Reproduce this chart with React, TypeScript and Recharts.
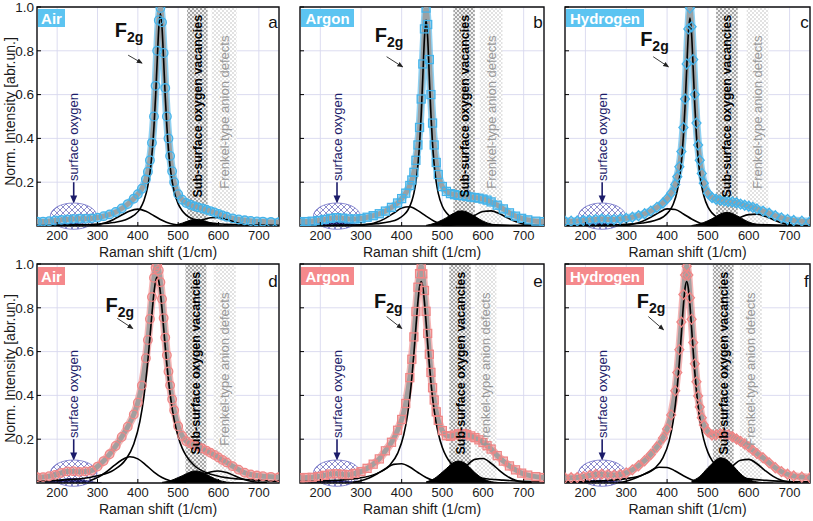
import React from 'react';
import { ComposedChart, Line, Area, XAxis, YAxis, CartesianGrid, ReferenceArea, ReferenceLine, ReferenceDot } from 'recharts';

const FONT = '"Liberation Sans", Arial, Helvetica, sans-serif';
const X_TICKS = [200, 300, 400, 500, 600, 700];
const Y_TICKS = [0.2, 0.4, 0.6, 0.8, 1.0];

// experimental spectrum x grid (1/cm)
const X_EXP = [150,165,180,195,210,225,240,255,270,285,300,315,330,345,360,375,390,400,410,420,425,430,435,440,444,448,452,456,460,464,468,472,476,480,485,490,500,510,520,530,540,550,560,570,580,590,600,610,620,635,650,665,680,695,710,730,750];
const EXP_A = [0.02,0.02,0.022,0.025,0.028,0.03,0.032,0.033,0.033,0.035,0.038,0.045,0.053,0.064,0.08,0.1,0.125,0.145,0.17,0.213,0.248,0.3,0.38,0.5,0.64,0.8,0.94,0.995,0.93,0.79,0.63,0.5,0.4,0.32,0.25,0.2,0.145,0.12,0.105,0.097,0.09,0.085,0.08,0.074,0.068,0.062,0.055,0.048,0.042,0.035,0.03,0.026,0.023,0.021,0.02,0.018,0.017];
const EXP_B = [0.02,0.02,0.022,0.025,0.03,0.035,0.038,0.036,0.032,0.032,0.034,0.04,0.047,0.056,0.068,0.085,0.105,0.125,0.15,0.185,0.21,0.245,0.3,0.37,0.45,0.58,0.74,0.9,0.995,0.92,0.76,0.6,0.47,0.37,0.29,0.235,0.18,0.158,0.148,0.143,0.14,0.138,0.135,0.132,0.13,0.127,0.123,0.118,0.11,0.095,0.078,0.06,0.045,0.035,0.028,0.022,0.02];
const EXP_C = [0.022,0.022,0.023,0.025,0.027,0.03,0.032,0.03,0.03,0.032,0.035,0.04,0.047,0.056,0.068,0.085,0.105,0.125,0.15,0.19,0.225,0.27,0.34,0.45,0.58,0.74,0.9,0.995,0.91,0.76,0.6,0.47,0.37,0.3,0.24,0.195,0.15,0.13,0.122,0.118,0.115,0.112,0.11,0.106,0.1,0.095,0.09,0.085,0.078,0.068,0.058,0.047,0.037,0.03,0.025,0.022,0.02];
const EXP_D = [0.026,0.027,0.031,0.037,0.046,0.053,0.054,0.051,0.053,0.056,0.075,0.1,0.131,0.169,0.21,0.257,0.313,0.367,0.445,0.57,0.653,0.749,0.849,0.937,0.983,0.996,0.972,0.917,0.84,0.753,0.664,0.583,0.509,0.446,0.382,0.332,0.259,0.215,0.191,0.18,0.173,0.166,0.158,0.148,0.138,0.128,0.117,0.105,0.094,0.077,0.061,0.047,0.039,0.034,0.031,0.028,0.026];
const EXP_E = [0.024,0.025,0.026,0.03,0.035,0.041,0.042,0.04,0.038,0.044,0.052,0.067,0.086,0.11,0.147,0.186,0.241,0.29,0.363,0.481,0.565,0.667,0.783,0.894,0.956,0.99,0.955,0.879,0.784,0.683,0.588,0.505,0.435,0.379,0.325,0.286,0.239,0.216,0.213,0.219,0.225,0.226,0.222,0.215,0.207,0.197,0.185,0.17,0.155,0.125,0.1,0.078,0.06,0.045,0.036,0.029,0.025];
const EXP_F = [0.023,0.024,0.025,0.029,0.034,0.039,0.04,0.038,0.036,0.039,0.046,0.06,0.079,0.102,0.13,0.164,0.206,0.247,0.311,0.421,0.504,0.609,0.735,0.861,0.95,0.99,0.95,0.846,0.748,0.641,0.544,0.462,0.397,0.347,0.298,0.265,0.234,0.219,0.22,0.225,0.225,0.219,0.211,0.201,0.19,0.178,0.165,0.15,0.135,0.115,0.092,0.07,0.052,0.04,0.032,0.027,0.024];

// F2g Lorentzian component
const X_F2G = [150,200,250,300,340,370,390,405,415,425,430,435,440,444,448,452,456,460,464,468,472,476,480,485,490,500,510,520,540,570,600,650,700,750];
const F2G_A = [0.002,0.003,0.005,0.009,0.016,0.029,0.048,0.077,0.115,0.184,0.242,0.328,0.454,0.591,0.755,0.906,0.97,0.906,0.755,0.591,0.454,0.349,0.272,0.205,0.158,0.101,0.07,0.05,0.03,0.017,0.01,0.006,0.004,0.003];
const F2G_B = [0.002,0.002,0.004,0.006,0.011,0.019,0.031,0.05,0.072,0.114,0.149,0.2,0.279,0.374,0.508,0.682,0.859,0.94,0.859,0.682,0.508,0.374,0.279,0.2,0.149,0.09,0.06,0.042,0.024,0.013,0.008,0.004,0.003,0.002];
const F2G_C = [0.002,0.003,0.004,0.008,0.014,0.025,0.041,0.067,0.099,0.161,0.213,0.292,0.412,0.548,0.716,0.878,0.95,0.878,0.716,0.548,0.412,0.313,0.241,0.18,0.138,0.087,0.06,0.043,0.026,0.014,0.009,0.005,0.003,0.002];
const F2G_D = [0.008,0.012,0.018,0.033,0.059,0.107,0.178,0.28,0.393,0.561,0.665,0.773,0.869,0.921,0.94,0.921,0.869,0.794,0.709,0.622,0.542,0.47,0.408,0.342,0.289,0.211,0.159,0.124,0.08,0.047,0.031,0.018,0.012,0.008];
const F2G_E = [0.006,0.009,0.013,0.024,0.044,0.08,0.135,0.219,0.318,0.48,0.589,0.711,0.828,0.895,0.92,0.895,0.828,0.736,0.637,0.543,0.46,0.39,0.331,0.272,0.227,0.162,0.12,0.092,0.059,0.034,0.022,0.013,0.008,0.006];
const F2G_F = [0.005,0.007,0.011,0.02,0.037,0.068,0.116,0.191,0.283,0.44,0.551,0.682,0.813,0.89,0.92,0.89,0.813,0.709,0.602,0.504,0.42,0.351,0.295,0.24,0.198,0.14,0.103,0.079,0.05,0.029,0.019,0.011,0.007,0.005];

// shoulder band (~380-410)
const X_SH = [280,300,320,340,360,380,400,420,440,460,480,500,520];
const SH_A = [0.002,0.006,0.015,0.03,0.05,0.069,0.077,0.067,0.047,0.026,0.011,0.004,0.001];
const SH_B = [0.001,0.003,0.008,0.018,0.035,0.058,0.082,0.088,0.07,0.045,0.022,0.008,0.002];
const SH_C = [0.001,0.004,0.01,0.022,0.04,0.061,0.078,0.075,0.055,0.032,0.014,0.005,0.001];
const SH_D = [0.01,0.025,0.048,0.078,0.105,0.12,0.11,0.082,0.05,0.025,0.01,0.003,0.001];
const SH_E = [0.003,0.01,0.023,0.042,0.065,0.085,0.088,0.073,0.048,0.025,0.01,0.003,0.001];
const SH_F = [0.002,0.008,0.02,0.037,0.056,0.072,0.071,0.055,0.033,0.015,0.005,0.001,0];

// sub-surface oxygen vacancy band (~540, filled)
const X_FILL = [460,480,500,510,520,530,540,550,560,570,580,600,620,640,660];
const FILL_A = [0,0.002,0.008,0.013,0.02,0.026,0.03,0.03,0.026,0.02,0.014,0.005,0.002,0,0];
const FILL_B = [0.003,0.012,0.028,0.038,0.05,0.06,0.068,0.069,0.064,0.055,0.044,0.022,0.009,0.003,0.001];
const FILL_C = [0.002,0.01,0.024,0.033,0.044,0.054,0.061,0.062,0.057,0.048,0.038,0.018,0.007,0.002,0];
const FILL_D = [0.003,0.01,0.025,0.033,0.042,0.05,0.055,0.054,0.049,0.04,0.03,0.013,0.004,0.001,0];
const FILL_E = [0.005,0.02,0.05,0.066,0.083,0.096,0.1,0.096,0.084,0.066,0.048,0.02,0.006,0.002,0];
const FILL_F = [0.008,0.03,0.07,0.088,0.105,0.115,0.112,0.1,0.082,0.062,0.042,0.016,0.005,0.001,0];

// Frenkel-type defect band (~600)
const X_P6 = [500,520,540,560,580,600,620,640,660,680,700,720];
const P6_A = [0.002,0.006,0.015,0.028,0.038,0.039,0.03,0.018,0.008,0.003,0.001,0];
const P6_B = [0.001,0.004,0.012,0.028,0.049,0.066,0.069,0.057,0.037,0.02,0.008,0.003];
const P6_C = [0.001,0.004,0.011,0.024,0.04,0.052,0.054,0.044,0.029,0.015,0.006,0.002];
const P6_D = [0.002,0.008,0.02,0.036,0.05,0.055,0.048,0.033,0.018,0.008,0.003,0.001];
const P6_E = [0.006,0.02,0.048,0.08,0.108,0.112,0.09,0.058,0.03,0.012,0.004,0.001];
const P6_F = [0.005,0.018,0.045,0.077,0.104,0.108,0.088,0.057,0.03,0.012,0.004,0.001];

// surface oxygen band (~240, filled)
const X_SO = [170,190,210,230,250,270,290,310];
const SO_A = [0.001,0.004,0.009,0.012,0.011,0.007,0.003,0.001];
const SO_B = [0.002,0.006,0.012,0.018,0.019,0.013,0.006,0.002];
const SO_C = [0.001,0.005,0.01,0.013,0.012,0.008,0.003,0.001];
const SO_D = [0.002,0.008,0.015,0.02,0.018,0.011,0.004,0.001];
const SO_E = [0.001,0.005,0.01,0.012,0.011,0.007,0.003,0.001];
const SO_F = [0.001,0.005,0.01,0.012,0.011,0.007,0.003,0.001];

const PANELS = [
  { letter: 'a', gas: 'Air', row: 0, col: 0, marker: 'circle', exp: EXP_A, f2g: F2G_A, sh: SH_A, fill: FILL_A, p6: P6_A, so: SO_A },
  { letter: 'b', gas: 'Argon', row: 0, col: 1, marker: 'square', exp: EXP_B, f2g: F2G_B, sh: SH_B, fill: FILL_B, p6: P6_B, so: SO_B },
  { letter: 'c', gas: 'Hydrogen', row: 0, col: 2, marker: 'diamond', exp: EXP_C, f2g: F2G_C, sh: SH_C, fill: FILL_C, p6: P6_C, so: SO_C },
  { letter: 'd', gas: 'Air', row: 1, col: 0, marker: 'circle', exp: EXP_D, f2g: F2G_D, sh: SH_D, fill: FILL_D, p6: P6_D, so: SO_D },
  { letter: 'e', gas: 'Argon', row: 1, col: 1, marker: 'square', exp: EXP_E, f2g: F2G_E, sh: SH_E, fill: FILL_E, p6: P6_E, so: SO_E },
  { letter: 'f', gas: 'Hydrogen', row: 1, col: 2, marker: 'diamond', exp: EXP_F, f2g: F2G_F, sh: SH_F, fill: FILL_F, p6: P6_F, so: SO_F },
];

// annotation placement (data coordinates)
const BAND_DARK: any = { a: [522, 573], b: [527, 580], c: [520, 573], d: [518, 570], e: [517, 570], f: [512, 563] };
const BAND_LIGHT: any = { a: [583, 645], b: [592, 648], c: [595, 648], d: [588, 643], e: [580, 633], f: [578, 632] };
const F2G_LABEL: any = { a: [343, 0.863], b: [334, 0.84], c: [334, 0.82], d: [320, 0.782], e: [332, 0.8], f: [326, 0.8] };
const F2G_ARROW: any = {
  a: [[376, 0.78], [410, 0.744]], b: [[363, 0.773], [402, 0.727]], c: [[366, 0.773], [403, 0.727]],
  d: [[349, 0.752], [387, 0.706]], e: [[363, 0.76], [400, 0.706]], f: [[354, 0.76], [391, 0.7]],
};

// layout
const COL_LEFT = [37, 300, 565];
const COL_W = [242, 244, 245];
const ROW_TOP = [7, 264];
const PLOT_H = 219;
const TAG_W: any = { Air: 27, Argon: 53, Hydrogen: 78 };
const ROW_COLOR = ['#45b3e9', '#ef8686'];
const TAG_COLOR = ['#5cc4f1', '#f5898c'];

function buildRows(p: any) {
  const map = new Map<number, any>();
  const add = (xs: number[], ys: number[], key: string) => {
    xs.forEach((x, i) => {
      const r = map.get(x) || { x };
      r[key] = ys[i];
      map.set(x, r);
    });
  };
  add(X_EXP, p.exp, 'exp');
  add(X_EXP, p.exp, 'fit');
  add(X_F2G, p.f2g, 'f2g');
  add(X_SH, p.sh, 'sh');
  add(X_FILL, p.fill, 'fill');
  add(X_P6, p.p6, 'p6');
  add(X_SO, p.so, 'so');
  return Array.from(map.values()).sort((a, b) => a.x - b.x);
}

const XTick = (props: any) => {
  const { x, y, payload } = props;
  return (
    <g>
      <line x1={x} x2={x} y1={y} y2={y - 4} stroke="#000" strokeWidth={1} />
      <text x={x} y={y + 14} textAnchor="middle" fontSize={13} fill="#1a1a1a" fontFamily={FONT}>{payload.value}</text>
    </g>
  );
};

const makeYTick = (showLabel: boolean) => (props: any) => {
  const { x, y, payload } = props;
  return (
    <g>
      <line x1={x} x2={x + 4} y1={y} y2={y} stroke="#000" strokeWidth={1} />
      {showLabel ? (
        <text x={x - 3} y={y} dy="0.36em" textAnchor="end" fontSize={13.5} fill="#1a1a1a" fontFamily={FONT}>{Number(payload.value).toFixed(1)}</text>
      ) : null}
    </g>
  );
};

const XTitle = (props: any) => {
  const vb = props.viewBox;
  if (!vb) return null;
  return (
    <text x={vb.x + vb.width / 2} y={vb.y + 31} textAnchor="middle" fontSize={14} fill="#1a1a1a" fontFamily={FONT}>Raman shift (1/cm)</text>
  );
};

const YTitle = (props: any) => {
  const vb = props.viewBox;
  if (!vb) return null;
  const cx = vb.x + vb.width - 27;
  const cy = vb.y + vb.height / 2 - 5;
  return (
    <text x={cx} y={cy} dy="0.36em" textAnchor="middle" transform={`rotate(-90, ${cx}, ${cy})`} fontSize={14} fill="#1a1a1a" fontFamily={FONT}>Norm. Intensity [abr.un.]</text>
  );
};

const makeMarker = (shape: string, color: string) => (props: any) => {
  const { cx, cy, index } = props;
  const key = `m${index}`;
  if (cx == null || cy == null || props.value == null) return <g key={key} />;
  if (shape === 'square') {
    return <rect key={key} x={cx - 4} y={cy - 4} width={8} height={8} fill="none" stroke={color} strokeWidth={1.3} />;
  }
  if (shape === 'diamond') {
    return <path key={key} d={`M${cx},${cy - 5} L${cx + 4.5},${cy} L${cx},${cy + 5} L${cx - 4.5},${cy} Z`} fill="none" stroke={color} strokeWidth={1.3} />;
  }
  return <circle key={key} cx={cx} cy={cy} r={4.3} fill="none" stroke={color} strokeWidth={1.3} />;
};

function Panel({ p }: { p: any }) {
  const M = { top: 10, right: 10, bottom: 5, left: 10 };
  const YW = 30;
  const XH = 40;
  const plotW = COL_W[p.col];
  const width = M.left + YW + plotW + M.right;
  const height = M.top + PLOT_H + XH + M.bottom;
  const rows = buildRows(p);
  const color = ROW_COLOR[p.row];
  const tagColor = TAG_COLOR[p.row];
  const dark = BAND_DARK[p.letter];
  const light = BAND_LIGHT[p.letter];
  const fl = F2G_LABEL[p.letter];
  const fa = F2G_ARROW[p.letter];
  const showY = p.col === 0;
  const tagW = TAG_W[p.gas];
  return (
    <div style={{ position: 'absolute', left: COL_LEFT[p.col] - M.left - YW, top: ROW_TOP[p.row] - M.top }}>
      <ComposedChart width={width} height={height} data={rows} margin={M}>
        <CartesianGrid stroke="#d8d8ee" strokeWidth={0.9} />
        <XAxis dataKey="x" type="number" domain={[150, 750]} ticks={X_TICKS} interval={0} allowDataOverflow height={XH}
          tickSize={0} tickMargin={0} tickLine={false} axisLine={false} tick={<XTick />} label={{ content: XTitle } as any} />
        <YAxis type="number" domain={[0, 1]} ticks={Y_TICKS} interval={0} allowDataOverflow width={YW}
          tickSize={0} tickMargin={0} tickLine={false} axisLine={false} tick={makeYTick(showY)}
          label={showY ? ({ content: YTitle } as any) : undefined} />
        <ReferenceArea x1={dark[0]} x2={dark[1]} y1={0} y2={1} fill="url(#hatchDark)" fillOpacity={1} stroke="none" ifOverflow="visible" />
        <ReferenceArea x1={light[0]} x2={light[1]} y1={0} y2={1} fill="url(#hatchLight)" fillOpacity={1} stroke="none" ifOverflow="visible" />
        <Line dataKey="exp" type="monotone" stroke={color} strokeWidth={8} strokeOpacity={0.6} connectNulls
          dot={makeMarker(p.marker, color)} activeDot={false} isAnimationActive={false} />
        <Line dataKey="fit" type="monotone" stroke="#9b9b9b" strokeWidth={5} strokeOpacity={0.9} connectNulls
          dot={false} activeDot={false} isAnimationActive={false} />
        <Area dataKey="so" type="monotone" fill="#1c1c5c" stroke="#1c1c5c" fillOpacity={1} baseValue={0} connectNulls
          dot={false} activeDot={false} isAnimationActive={false} />
        <Area dataKey="fill" type="monotone" fill="#000" stroke="#000" fillOpacity={1} baseValue={0} connectNulls
          dot={false} activeDot={false} isAnimationActive={false} />
        <Line dataKey="sh" type="monotone" stroke="#000" strokeWidth={1.6} connectNulls dot={false} activeDot={false} isAnimationActive={false} />
        <Line dataKey="p6" type="monotone" stroke="#000" strokeWidth={1.6} connectNulls dot={false} activeDot={false} isAnimationActive={false} />
        <Line dataKey="f2g" type="monotone" stroke="#000" strokeWidth={1.6} connectNulls dot={false} activeDot={false} isAnimationActive={false} />
        <ReferenceArea x1={183} x2={298} y1={-0.015} y2={0.105} ifOverflow="visible"
          shape={(r: any) => (
            <ellipse cx={r.x + r.width / 2} cy={r.y + r.height / 2} rx={Math.abs(r.width) / 2} ry={Math.abs(r.height) / 2}
              fill="url(#hatchBlue)" stroke="#6d6dc6" strokeWidth={0.8} />
          )} />
        <ReferenceLine segment={[{ x: 241, y: 0.2 }, { x: 241, y: 0.112 }]} ifOverflow="visible"
          shape={(l: any) => <line x1={l.x1} y1={l.y1} x2={l.x2} y2={l.y2} stroke="#1c1c6a" strokeWidth={1.6} markerEnd="url(#arrowNavy)" />} />
        <ReferenceDot x={241} y={0.205} r={0} ifOverflow="visible"
          shape={(d: any) => (
            <text x={d.cx} y={d.cy} dy="0.36em" transform={`rotate(-90, ${d.cx}, ${d.cy})`} fontSize={13} fill="#1c1c6a" fontFamily={FONT}>surface oxygen</text>
          )} />
        <ReferenceDot x={(dark[0] + dark[1]) / 2} y={0.13} r={0} ifOverflow="visible"
          shape={(d: any) => (
            <text x={d.cx} y={d.cy} dy="0.36em" transform={`rotate(-90, ${d.cx}, ${d.cy})`} fontSize={12.5} fontWeight="bold" fill="#000" fontFamily={FONT}>Sub-surface oxygen vacancies</text>
          )} />
        <ReferenceDot x={(light[0] + light[1]) / 2} y={0.17} r={0} ifOverflow="visible"
          shape={(d: any) => (
            <text x={d.cx} y={d.cy} dy="0.36em" transform={`rotate(-90, ${d.cx}, ${d.cy})`} fontSize={13} fill="#999" fontFamily={FONT}>Frenkel-type anion defects</text>
          )} />
        <ReferenceDot x={fl[0]} y={fl[1]} r={0} ifOverflow="visible"
          shape={(d: any) => (
            <text x={d.cx} y={d.cy} fontSize={20} fontWeight="bold" fill="#111" fontFamily={FONT}>F<tspan fontSize={14} dy={5}>2g</tspan></text>
          )} />
        <ReferenceLine segment={[{ x: fa[0][0], y: fa[0][1] }, { x: fa[1][0], y: fa[1][1] }]} ifOverflow="visible"
          shape={(l: any) => <line x1={l.x1} y1={l.y1} x2={l.x2} y2={l.y2} stroke="#222" strokeWidth={0.9} markerEnd="url(#arrowBlack)" />} />
        <ReferenceDot x={150} y={1} r={0} ifOverflow="visible"
          shape={(d: any) => (
            <g>
              <rect x={d.cx + 1} y={d.cy + 2 + p.row} width={tagW} height={18} fill={tagColor} />
              <text x={d.cx + 1 + tagW / 2} y={d.cy + 16.5 + p.row} textAnchor="middle" fontSize={15} fontWeight="bold" fill="#fff" fontFamily={FONT}>{p.gas}</text>
            </g>
          )} />
        <ReferenceDot x={747} y={0.905 - p.row * 0.01} r={0} ifOverflow="visible"
          shape={(d: any) => (
            <text x={d.cx} y={d.cy} textAnchor="end" fontSize={17} fill="#111" fontFamily={FONT}>{p.letter}</text>
          )} />
        <ReferenceArea x1={150} x2={750} y1={0} y2={1} fill="none" stroke="#111" strokeWidth={1.4} ifOverflow="visible" />
      </ComposedChart>
    </div>
  );
}

export default function App() {
  return (
    <div style={{ position: 'absolute', left: 0, top: 0, width: 813, height: 521, background: '#fff', overflow: 'hidden', fontFamily: FONT }}>
      <svg width={0} height={0} style={{ position: 'absolute' }}>
        <defs>
          <pattern id="hatchDark" width={4} height={4} patternUnits="userSpaceOnUse">
            <rect width={4} height={4} fill="#f2f2f2" />
            <path d="M0,0 L4,4 M4,0 L0,4" stroke="#666" strokeWidth={0.55} />
          </pattern>
          <pattern id="hatchLight" width={4} height={4} patternUnits="userSpaceOnUse">
            <rect width={4} height={4} fill="#ffffff" />
            <path d="M0,0 L4,4 M4,0 L0,4" stroke="#cfcfcf" strokeWidth={0.6} />
          </pattern>
          <pattern id="hatchBlue" width={6} height={6} patternUnits="userSpaceOnUse">
            <path d="M0,0 L6,6 M6,0 L0,6" stroke="#5b5bb8" strokeWidth={0.7} />
          </pattern>
          <marker id="arrowBlack" markerWidth={6} markerHeight={6} refX={5} refY={3} orient="auto" markerUnits="userSpaceOnUse">
            <path d="M0,0.5 L6,3 L0,5.5 z" fill="#222" />
          </marker>
          <marker id="arrowNavy" markerWidth={8} markerHeight={8} refX={6} refY={4} orient="auto" markerUnits="userSpaceOnUse">
            <path d="M0,0.5 L8,4 L0,7.5 z" fill="#1c1c6a" />
          </marker>
        </defs>
      </svg>
      {PANELS.map((p) => <Panel key={p.letter} p={p} />)}
    </div>
  );
}
